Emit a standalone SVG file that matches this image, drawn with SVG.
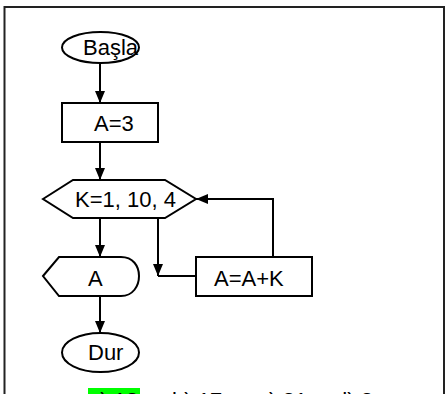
<svg xmlns="http://www.w3.org/2000/svg" width="446" height="394" viewBox="0 0 446 394">
<defs>
<marker id="ah" viewBox="0 0 12 10" refX="12" refY="5" markerWidth="12" markerHeight="10" markerUnits="userSpaceOnUse" orient="auto">
<path d="M0,0 L12,5 L0,10 Z" fill="#000"/>
</marker>
</defs>
<style>
.s{fill:#fff;stroke:#000;stroke-width:2}
.t{font-family:"Liberation Sans",Arial,sans-serif;font-size:22px;fill:#000}
.c{fill:none;stroke:#000;stroke-width:2}
</style>
<rect width="446" height="394" fill="#fff"/>
<path d="M4.5,394 V7 H444 V394" fill="none" stroke="#222" stroke-width="2"/>
<g id="connectors">
<path class="c" d="M100,63 V103" marker-end="url(#ah)"/>
<path class="c" d="M100,142 V180" marker-end="url(#ah)"/>
<path class="c" d="M100,218 V257" marker-end="url(#ah)"/>
<path class="c" d="M100,296 V333" marker-end="url(#ah)"/>
<path class="c" d="M158,218 V276" marker-end="url(#ah)"/>
<path class="c" d="M158,276 H196"/>
<path class="c" d="M273,257 V199 H196" marker-end="url(#ah)"/>
</g>
<g id="start">
<ellipse class="s" cx="100.5" cy="47.5" rx="38.5" ry="15.5"/>
<text class="t" x="83" y="55">Başla</text>
</g>
<g id="assign">
<rect class="s" x="62" y="103" width="96" height="39"/>
<text class="t" x="94" y="131">A=3</text>
</g>
<g id="loop">
<path class="s" d="M43,199 L73,180 H165 L196,199 L165,218 H73 Z"/>
<text class="t" x="75" y="207">K=1, 10, 4</text>
</g>
<g id="output">
<path class="s" d="M43,276 L59,257 H121 C133,257 139,266 139,276 C139,286 133,296 121,296 H59 Z"/>
<text class="t" x="88" y="286">A</text>
</g>
<g id="update">
<rect class="s" x="196" y="257" width="116" height="39"/>
<text class="t" x="214" y="286">A=A+K</text>
</g>
<g id="end">
<ellipse class="s" cx="100.5" cy="352.5" rx="38.5" ry="19.5"/>
<text class="t" x="88" y="360">Dur</text>
</g>
<rect x="88" y="388" width="52" height="6" fill="#00ff00"/>
<text class="t" x="88" y="408">a) 18</text>
<text class="t" x="172" y="408">b) 17</text>
<text class="t" x="258" y="408">c) 21</text>
<text class="t" x="335" y="408">d) 3</text>
</svg>
